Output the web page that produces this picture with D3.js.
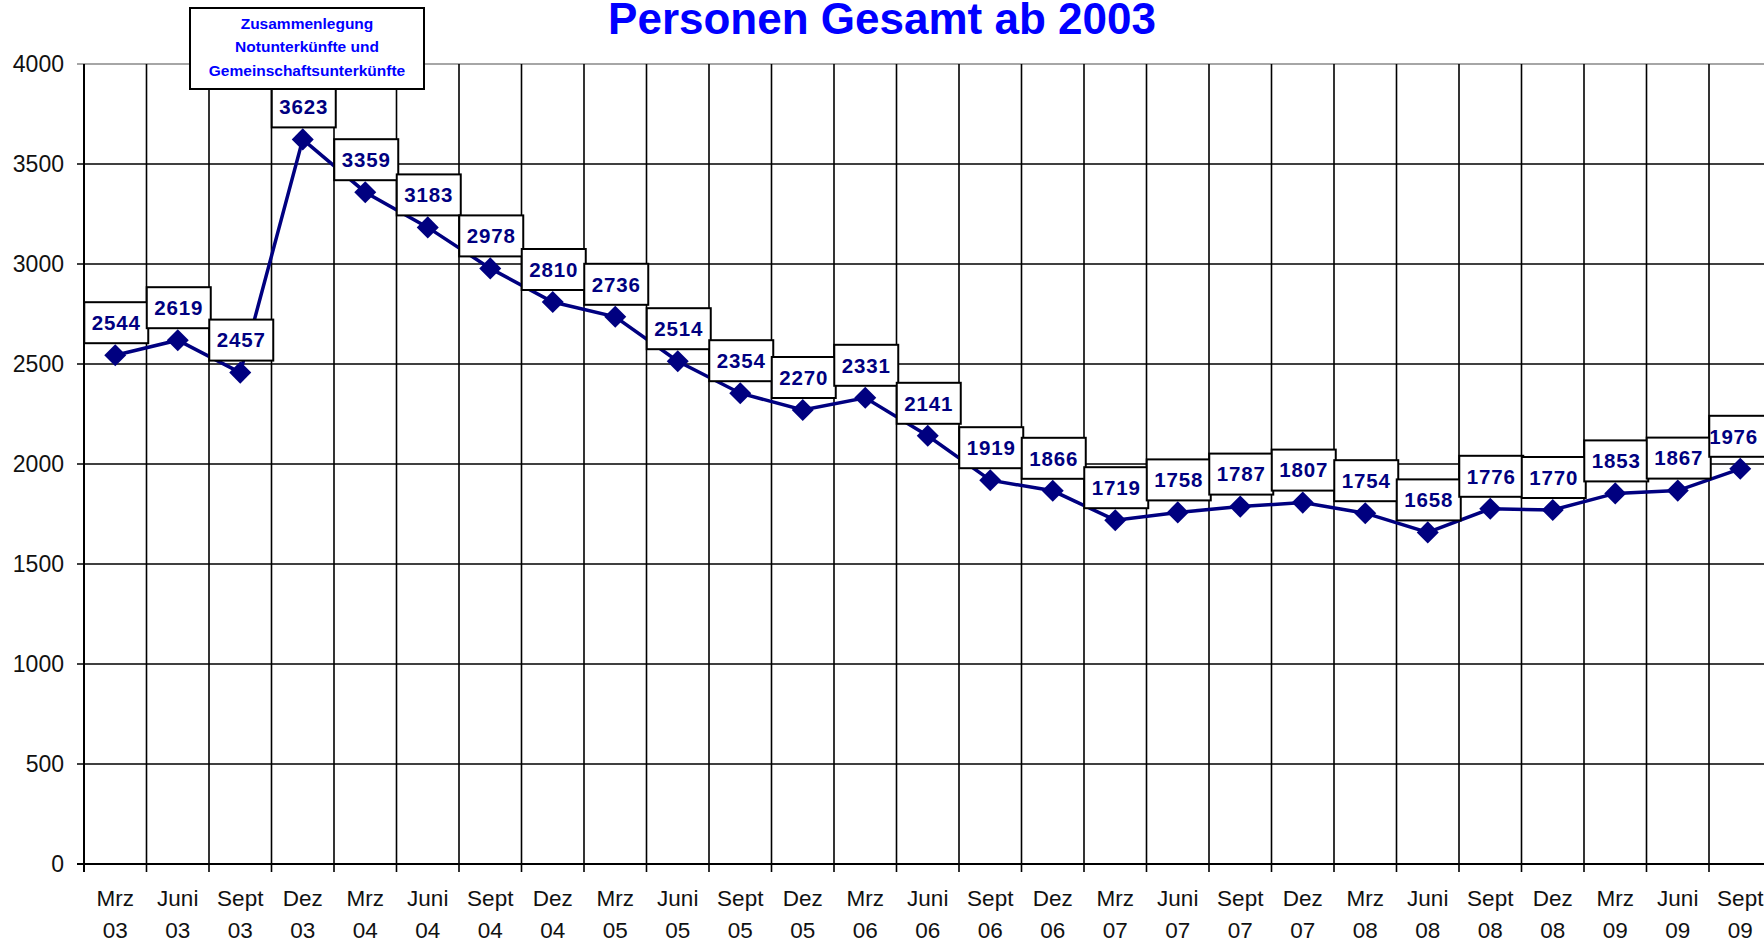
<!DOCTYPE html>
<html>
<head>
<meta charset="utf-8">
<script src="https://cdn.jsdelivr.net/npm/d3@7"></script>
<style>
  html, body { margin: 0; padding: 0; background: #fff; }
  svg { display: block; }
  text { font-family: "Liberation Sans", Arial, sans-serif; }
</style>
</head>
<body>
<svg id="chart" width="1764" height="944"></svg>
<script>
// quarterly values, Mrz 03 .. Sept 09
var months = ["Mrz", "Juni", "Sept", "Dez", "Mrz", "Juni", "Sept", "Dez", "Mrz", "Juni", "Sept", "Dez",
              "Mrz", "Juni", "Sept", "Dez", "Mrz", "Juni", "Sept", "Dez", "Mrz", "Juni", "Sept", "Dez",
              "Mrz", "Juni", "Sept"];
var years = ["03", "03", "03", "03", "04", "04", "04", "04", "05", "05", "05", "05",
             "06", "06", "06", "06", "07", "07", "07", "07", "08", "08", "08", "08",
             "09", "09", "09"];
var values = [2544, 2619, 2457, 3623, 3359, 3183, 2978, 2810, 2736, 2514, 2354, 2270,
              2331, 2141, 1919, 1866, 1719, 1758, 1787, 1807, 1754, 1658, 1776, 1770,
              1853, 1867, 1976];
var yTicks = [0, 500, 1000, 1500, 2000, 2500, 3000, 3500, 4000];
var title = "Personen Gesamt ab 2003";
var note = ["Zusammenlegung", "Notunterkünfte und", "Gemeinschaftsunterkünfte"];

var navy = "#000080";
var W = 1764;
var svg = d3.select("#chart");

var plotLeft = 84, plotTop = 64, plotBottom = 864, band = 62.5;
var idx = d3.range(values.length);

var x = d3.scaleBand().domain(idx).range([plotLeft, plotLeft + band * values.length]);
var y = d3.scaleLinear().domain([0, 4000]).range([plotBottom, plotTop]);
var plotRight = x.range()[1];

// horizontal grid
svg.append("g").selectAll("line")
  .data(yTicks)
  .enter().append("line")
  .attr("x1", plotLeft - 7).attr("x2", plotRight)
  .attr("y1", function(d) { return y(d); })
  .attr("y2", function(d) { return y(d); })
  .attr("stroke", function(d) { return d === 4000 ? "#888" : "#000"; })
  .attr("stroke-width", function(d) { return d === 0 ? 2 : 1.6; });

// vertical grid at band edges, with ticks below the axis
var edges = idx.map(function(i) { return x(i); });
svg.append("g").selectAll("line")
  .data(edges)
  .enter().append("line")
  .attr("x1", function(d) { return d; })
  .attr("x2", function(d) { return d; })
  .attr("y1", plotTop).attr("y2", plotBottom + 8)
  .attr("stroke", "#000")
  .attr("stroke-width", function(d, i) { return i === 0 ? 2 : 1.6; });

// y labels
svg.append("g").selectAll("text")
  .data(yTicks)
  .enter().append("text")
  .attr("x", 64)
  .attr("y", function(d) { return y(d); })
  .attr("dy", "0.36em")
  .attr("text-anchor", "end")
  .attr("font-size", 23)
  .attr("fill", "#111")
  .text(function(d) { return d; });

// x labels, two lines
var xl = svg.append("g").selectAll("g")
  .data(idx)
  .enter().append("g")
  .attr("transform", function(i) { return "translate(" + (x(i) + band / 2) + ",0)"; });
xl.append("text")
  .attr("y", 906).attr("text-anchor", "middle")
  .attr("font-size", 22.5).attr("fill", "#111")
  .text(function(i) { return months[i]; });
xl.append("text")
  .attr("y", 938).attr("text-anchor", "middle")
  .attr("font-size", 22.5).attr("fill", "#111")
  .text(function(i) { return years[i]; });

// series line
var line = d3.line()
  .x(function(d, i) { return x(i) + band / 2; })
  .y(function(d) { return y(d); });
svg.append("path")
  .datum(values)
  .attr("d", line)
  .attr("fill", "none")
  .attr("stroke", navy)
  .attr("stroke-width", 3.5);

svg.append("g").selectAll("path")
  .data(values)
  .enter().append("path")
  .attr("d", d3.symbol().type(d3.symbolDiamond2).size(310))
  .attr("transform", function(d, i) { return "translate(" + (x(i) + band / 2) + "," + y(d) + ")"; })
  .attr("fill", navy);

// data label boxes
var lab = svg.append("g").selectAll("g")
  .data(values)
  .enter().append("g")
  .attr("transform", function(d, i) { return "translate(" + (x(i) + band / 2) + "," + (y(d) - 12) + ")"; });
lab.append("rect")
  .attr("x", -31).attr("y", -41)
  .attr("width", 64).attr("height", 41)
  .attr("fill", "#fff")
  .attr("stroke", "#000")
  .attr("stroke-width", 2);
lab.append("text")
  .attr("x", 1).attr("y", -20.5)
  .attr("dy", "0.36em")
  .attr("text-anchor", "middle")
  .attr("font-size", 20.5)
  .attr("font-weight", "bold")
  .attr("letter-spacing", 0.8)
  .attr("fill", navy)
  .text(function(d) { return d; })
  .each(function(d, i) {
    // keep the last label inside the picture
    var cx = x(i) + band / 2, half = this.getComputedTextLength() / 2;
    var over = cx + 1 + half - (W - 6);
    if (over > 0) d3.select(this).attr("x", 1 - over);
  });

// annotation
var ann = svg.append("g");
ann.append("rect")
  .attr("x", 190).attr("y", 8)
  .attr("width", 234).attr("height", 81)
  .attr("fill", "#fff")
  .attr("stroke", "#000")
  .attr("stroke-width", 2);
ann.selectAll("text")
  .data(note)
  .enter().append("text")
  .attr("x", 307)
  .attr("y", function(d, i) { return 23 + i * 23.5; })
  .attr("dy", "0.36em")
  .attr("text-anchor", "middle")
  .attr("font-size", 15.5)
  .attr("font-weight", "bold")
  .attr("fill", "#0000ff")
  .text(function(d) { return d; });

// title
svg.append("text")
  .attr("x", 882).attr("y", 34)
  .attr("text-anchor", "middle")
  .attr("font-size", 44)
  .attr("font-weight", "bold")
  .attr("fill", "#0000ff")
  .text(title);
</script>
</body>
</html>
